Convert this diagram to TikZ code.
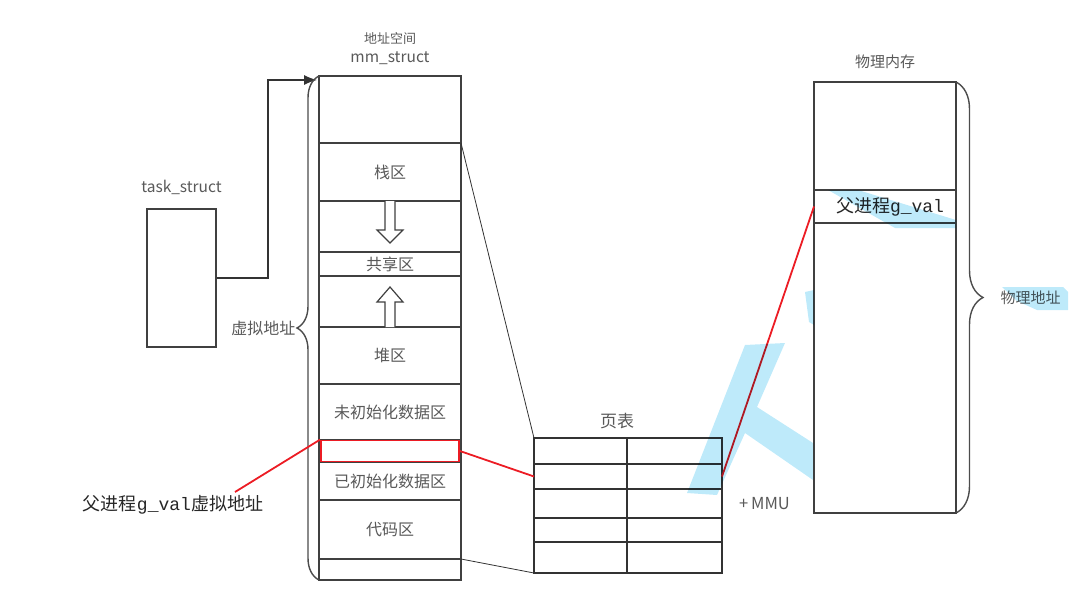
\documentclass[tikz,border=0pt]{standalone}
\usepackage{fontspec}
\setmainfont{Noto Sans CJK SC}
\newfontfamily\monof{Liberation Mono}
\usetikzlibrary{arrows.meta, positioning, calc, decorations.pathreplacing}
\definecolor{wmblue}{RGB}{190,234,250}
\definecolor{hlred}{RGB}{236,28,36}
\newcommand{\gv}{{\monof g\_val}}

\begin{document}
\begin{tikzpicture}[x=1pt, y=-1pt,
    seg/.style={draw=black!75, line width=1.6pt, minimum width=142pt, inner sep=0pt,
                outer sep=0pt, font=\fontsize{16}{18}\selectfont, text=black!65},
    lbl/.style={inner sep=0pt, font=\fontsize{13}{18}\selectfont, text=black!65},
    latin/.style={inner sep=0pt, font=\fontsize{15.5}{18}\selectfont, text=black!65},
    box/.style={draw=black!75, line width=1.6pt, inner sep=0pt},
    cell/.style={draw=black!80, line width=1.6pt, minimum width=93pt, inner sep=0pt,
                 outer sep=0pt, anchor=north west},
    pm/.style={draw=black!75, line width=1.4pt, minimum width=142pt, inner sep=0pt,
               outer sep=0pt},
    redln/.style={draw=hlred, line width=1.8pt},
    thin/.style={draw=black!80, line width=0.8pt},
    brc/.style={draw=black!70, line width=1.4pt, decorate},
    blk/.style={draw=black!75, line width=1.2pt, fill=white},
    wm/.style={fill=wmblue},
]
\useasboundingbox (0,0) rectangle (1073,615);

% address space column
\node[seg, minimum height=67pt, anchor=north] (s0) at (390,76) {};
\node[seg, minimum height=58pt, below=0pt of s0] (stack) {栈区};
\node[seg, minimum height=51pt, below=0pt of stack] (gapd) {};
\node[seg, minimum height=24pt, below=0pt of gapd] (shared) {共享区};
\node[seg, minimum height=51pt, below=0pt of shared] (gapu) {};
\node[seg, minimum height=57pt, below=0pt of gapu] (heap) {堆区};
\node[seg, minimum height=56pt, below=0pt of heap] (bss) {未初始化数据区};
\node[seg, minimum height=22pt, below=0pt of bss] (gvrow) {};
\node[seg, minimum height=38pt, below=0pt of gvrow] (data) {已初始化数据区};
\node[seg, minimum height=59pt, below=0pt of data] (code) {代码区};
\node[seg, minimum height=21pt, below=0pt of code] (s9) {};
\node[latin, above=11pt of s0] (mmttl) {mm\_struct};
\node[lbl, above=7pt of mmttl] (asttl) {地址空间};
\node[draw=hlred, line width=1.8pt, minimum width=138pt, minimum height=21pt,
      inner sep=0pt] (hl) at (gvrow) {};

% stack / heap growth
\draw[blk] ($(gapd.north)+(-5,0)$) -- ++(0,29) -- ++(-8,0) -- ++(13,13)
           -- ++(13,-13) -- ++(-8,0) -- ++(0,-29);
\draw[blk] ($(gapu.south)+(-5,0)$) -- ++(0,-25) -- ++(-8,0) -- ++(13,-15)
           -- ++(13,15) -- ++(-8,0) -- ++(0,25);

% task_struct
\node[box, minimum width=69pt, minimum height=138pt] (task) at (181.5,278) {};
\node[latin, above=13pt of task] (taskttl) {task\_struct};
\coordinate (mmin) at ($(s0.north west)+(-2,4)$);
\draw[draw=black!80, line width=1.4pt, -{Latex[length=13pt, width=10pt]}]
  (task.east) -- ++(51,0) |- (mmin);

\draw[brc, decoration={brace, amplitude=22pt}] (s9.south west)
  -- node[lbl, font=\fontsize{16}{18}\selectfont, left=23pt] (vaddr) {虚拟地址} (s0.north west);

% page table
\node[lbl, font=\fontsize{17}{19}\selectfont] (pttl) at (617,421) {页表};
\foreach \i/\t/\h in {1/438/26, 2/464/25, 3/489/29, 4/518/24, 5/542/31} {
  \node[cell, minimum height=\h pt] (pl\i) at (534,\t) {};
  \node[cell, minimum height=\h pt, minimum width=95pt] (pr\i) at (627,\t) {};
}
\node[latin, font=\fontsize{16.5}{18}\selectfont, right=17pt of pr3] (mmu) {+\,MMU};
\draw[thin] (s0.south east) -- (pl1.north west);
\draw[thin] (s9.north east) -- (pl5.south west);

% physical memory
\node[pm, minimum height=108pt, anchor=north] (pm0) at (885,82) {};
\node[pm, minimum height=33pt, below=0pt of pm0, font=\fontsize{18}{20}\selectfont,
      text=black!85] (pg) {\hspace*{10pt}父进程\gv};
\node[pm, minimum height=290pt, below=0pt of pg] (pm1) {};
\node[lbl, font=\fontsize{15}{17}\selectfont, above=13pt of pm0] (pmttl) {物理内存};
\draw[brc, decoration={brace, amplitude=27pt}] (pm0.north east)
  -- node[lbl, font=\fontsize{15}{17}\selectfont, right=44pt] (paddr) {物理地址} (pm1.south east);

% g_val mapping
\node[font=\fontsize{18}{20}\selectfont, text=black!85, inner sep=0pt] (gvlbl)
  at (173,505) {父进程\gv 虚拟地址};
\coordinate (gvtip) at (235,492);
\draw[redln] (gvtip) -- (hl.north west);
\draw[redln] (hl.east) -- (pl2.west);
\draw[redln] (pr2.east) -- (pg.west);

% watermark
\begin{scope}[blend mode=multiply]
  \fill[wm] (687,493) -- (745,345) -- (785,343) -- (757,407) -- (813,443)
    -- (813,480) -- (745,433) -- (717,495) -- cycle;
  \fill[wm] (828,190) -- (858,190) -- (956,220) -- (956,228) -- (895,228) -- cycle;
  \fill[wm] (1002,287) -- (1063,287) -- (1068,292) -- (1068,310) -- (1037,310)
    -- (1017,301) -- cycle;
  \fill[wm] (805,292) -- (814,290) -- (814,325) -- (809,322) -- cycle;
\end{scope}
\end{tikzpicture}
\end{document}
